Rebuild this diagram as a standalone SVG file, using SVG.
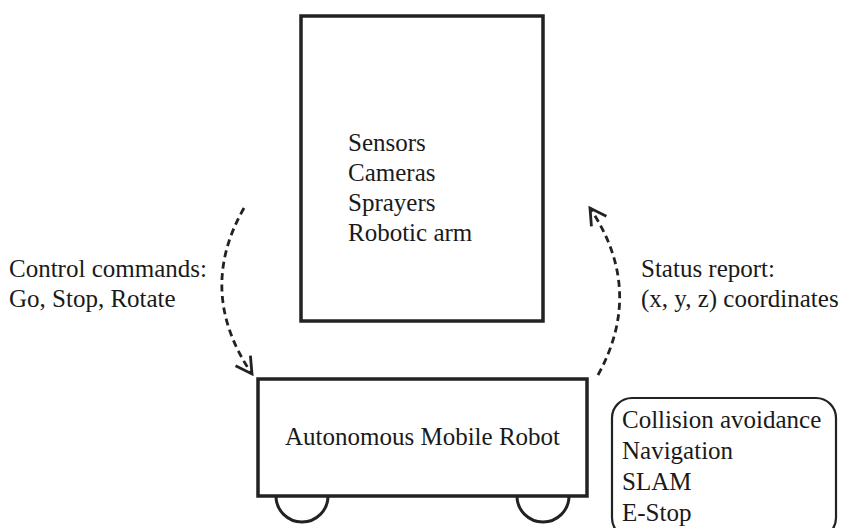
<svg xmlns="http://www.w3.org/2000/svg" width="842" height="528" viewBox="0 0 842 528">
<style>
.box{fill:#fff;stroke:#222;stroke-width:3.5}
.wheel{fill:none;stroke:#222;stroke-width:3}
.conn{fill:none;stroke:#222;stroke-width:2.8;stroke-dasharray:7 4.5}
</style>
<defs>
<marker id="ah" markerUnits="userSpaceOnUse" markerWidth="24" markerHeight="24" viewBox="-20 -12 24 24" refX="0" refY="0" orient="auto">
<polyline points="-16,-9 0,0 -16,9" fill="none" stroke="#222" stroke-width="2.8" stroke-linejoin="miter"/>
</marker>
</defs>
<rect width="842" height="528" fill="#fff"/>
<g font-family="Liberation Serif, Times New Roman, Times, serif" font-size="25" fill="#1a1a1a">
<g id="payload">
<rect class="box" x="301" y="16" width="242" height="305"/>
<text x="348" y="151">Sensors</text>
<text x="348" y="181">Cameras</text>
<text x="348" y="211">Sprayers</text>
<text x="348" y="241">Robotic arm</text>
</g>
<g id="robot">
<path class="wheel" d="M276,496 A26,26 0 0 0 328,496"/>
<path class="wheel" d="M517,496 A26,26 0 0 0 569,496"/>
<rect class="box" x="258" y="379" width="329" height="117"/>
<text x="422.5" y="445" text-anchor="middle">Autonomous Mobile Robot</text>
</g>
<g id="functions">
<rect x="612" y="398" width="224" height="140" rx="20" fill="#fff" stroke="#222" stroke-width="2.2"/>
<text x="622" y="428">Collision avoidance</text>
<text x="622" y="459">Navigation</text>
<text x="622" y="490">SLAM</text>
<text x="622" y="521">E-Stop</text>
</g>
<g id="control-label">
<text x="9" y="277">Control commands:</text>
<text x="9" y="307">Go, Stop, Rotate</text>
</g>
<g id="status-label">
<text x="641" y="277">Status report:</text>
<text x="641" y="307">(x, y, z) coordinates</text>
</g>
</g>
<g id="connectors">
<path class="conn" d="M244,208 Q196,292 252,374" marker-end="url(#ah)"/>
<path class="conn" d="M598,375 Q645,290 590,208" marker-end="url(#ah)"/>
</g>
</svg>
